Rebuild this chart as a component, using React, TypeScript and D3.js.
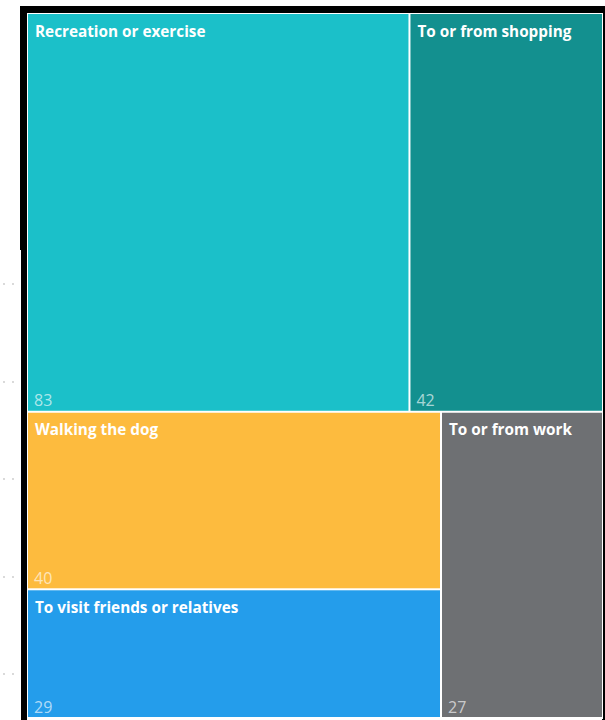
import React from "react";
import * as d3 from "d3";

const categories = [
  "Recreation or exercise",
  "To or from shopping",
  "Walking the dog",
  "To visit friends or relatives",
  "To or from work",
];
const values = [83, 42, 40, 29, 27];
const colors = ["#1BC0C9", "#13908F", "#FDBB3E", "#249DEB", "#6E7073"];
const dotRows = [284, 382, 479, 577, 674];

const W = 605;
const H = 720;
const OX = 28;
const OY = 14;

export default function App() {
  const root = d3
    .hierarchy({ name: "root", children: categories.map((c, i) => ({ name: c, value: values[i], color: colors[i] })) } as any)
    .sum((d: any) => d.value || 0)
    .sort((a, b) => (b.value || 0) - (a.value || 0));

  d3.treemap<any>()
    .tile(d3.treemapSquarify)
    .size([602 - OX, 717 - OY])
    .paddingInner(2)(root);

  const leaves = root.leaves() as any[];

  return (
    <svg
      width={W}
      height={H}
      style={{ position: "absolute", left: 0, top: 0, display: "block" }}
    >
      <rect x={0} y={0} width={W} height={H} fill="#ffffff" />
      {dotRows.map((y) => (
        <g key={y} fill="#c8c8c8">
          <circle cx={4} cy={y} r={0.9} />
          <circle cx={13} cy={y} r={0.9} />
        </g>
      ))}
      <rect x={20} y={6} width={585} height={8} fill="#000" />
      <rect x={20} y={6} width={8} height={244} fill="#000" />
      <rect x={21} y={6} width={6} height={714} fill="#000" />
      <rect x={602} y={6} width={3} height={714} fill="#000" />
      <rect x={27} y={13} width={576} height={706} fill="#fff" />
      <g transform={`translate(${OX},${OY})`}>
        {leaves.map((d) => (
          <g key={d.data.name}>
            <rect
              x={d.x0}
              y={d.y0}
              width={d.x1 - d.x0}
              height={d.y1 - d.y0}
              fill={d.data.color}
            />
            <text
              x={d.x0 + 7}
              y={d.y0 + 22.5}
              fill="#ffffff"
              fontFamily="'Open Sans', sans-serif"
              fontWeight={700}
              fontSize={15.3}
            >
              {d.data.name}
            </text>
            <text
              x={d.x0 + 6}
              y={d.y1 - 4.5}
              fill="#ffffff"
              fillOpacity={0.65}
              fontFamily="'Open Sans', sans-serif"
              fontSize={16}
            >
              {d.value}
            </text>
          </g>
        ))}
      </g>
    </svg>
  );
}
